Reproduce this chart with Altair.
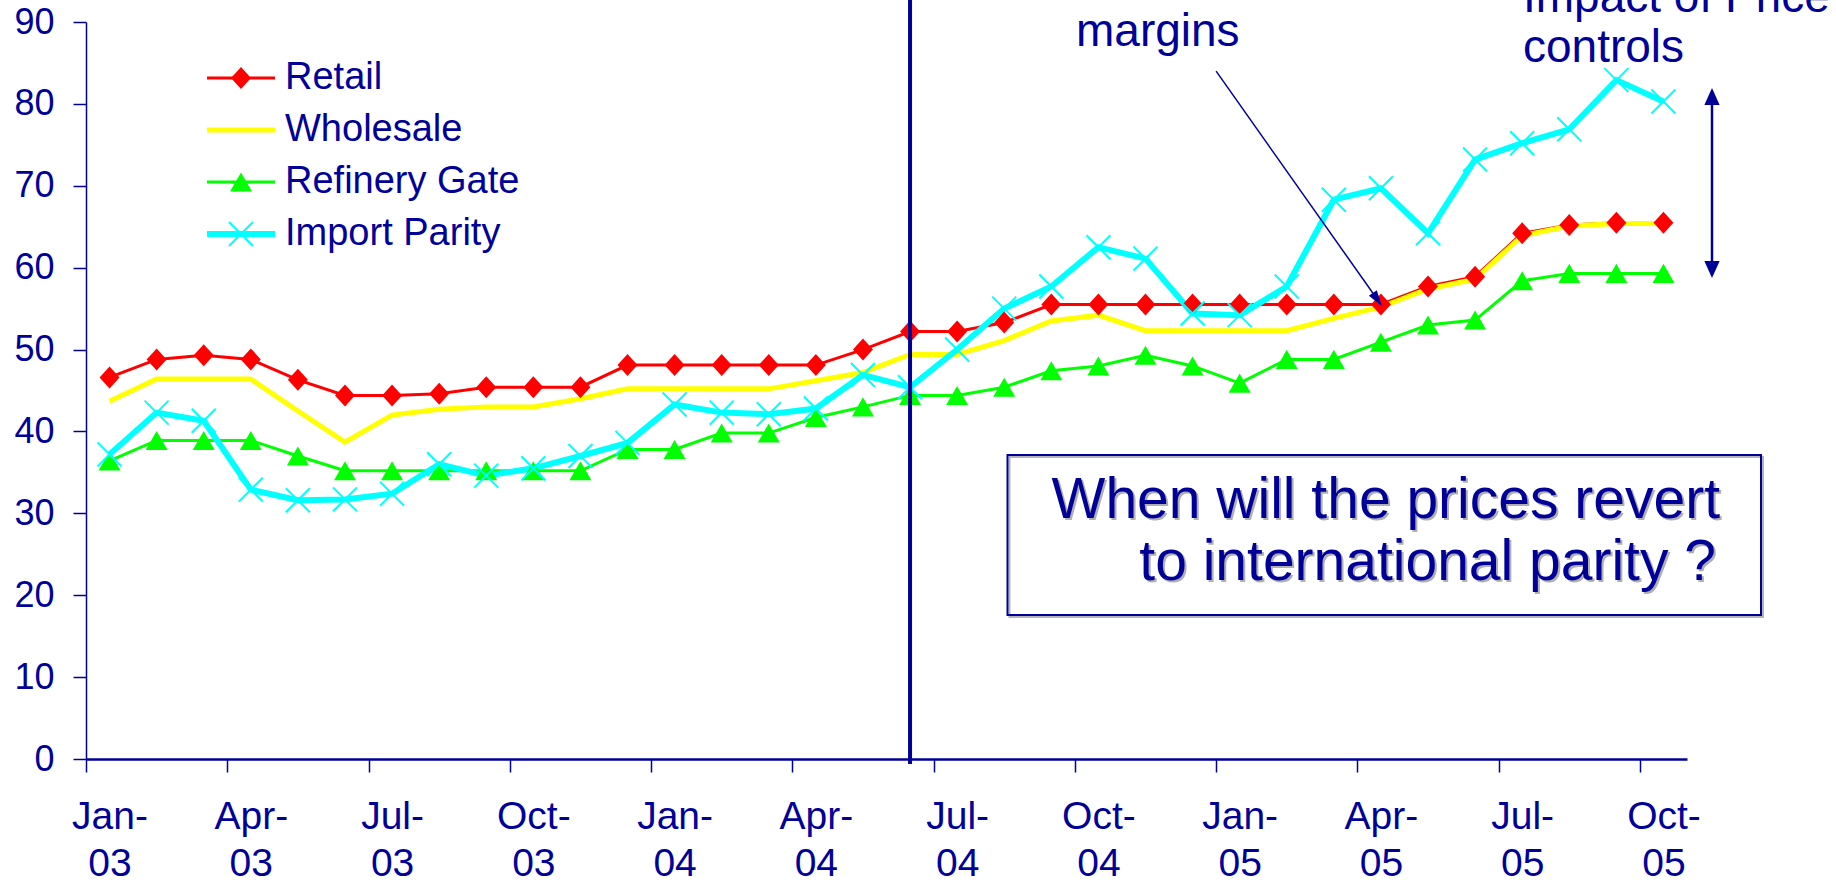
import altair as alt
import pandas as pd

# ---- data -----------------------------------------------------------------
MONTHS = [
    "Jan-03", "Feb-03", "Mar-03", "Apr-03", "May-03", "Jun-03",
    "Jul-03", "Aug-03", "Sep-03", "Oct-03", "Nov-03", "Dec-03",
    "Jan-04", "Feb-04", "Mar-04", "Apr-04", "May-04", "Jun-04",
    "Jul-04", "Aug-04", "Sep-04", "Oct-04", "Nov-04", "Dec-04",
    "Jan-05", "Feb-05", "Mar-05", "Apr-05", "May-05", "Jun-05",
    "Jul-05", "Aug-05", "Sep-05", "Oct-05",
]
RETAIL = [46.6, 48.8, 49.3, 48.8, 46.3, 44.4, 44.4, 44.6, 45.4, 45.4, 45.4, 48.1,
          48.1, 48.1, 48.1, 48.1, 50.0, 52.2, 52.2, 53.3, 55.5, 55.5, 55.5, 55.5,
          55.5, 55.5, 55.5, 55.5, 57.7, 58.9, 64.2, 65.2, 65.5, 65.5]
WHOLESALE = [43.7, 46.4, 46.4, 46.4, 42.5, 38.7, 42.0, 42.7, 43.0, 43.0, 44.0, 45.2,
             45.2, 45.2, 45.2, 46.2, 47.2, 49.4, 49.4, 51.1, 53.5, 54.2, 52.3, 52.3,
             52.3, 52.3, 53.8, 55.2, 57.4, 58.6, 63.9, 65.1, 65.4, 65.4]
REFINERY_GATE = [36.4, 38.9, 38.9, 38.9, 37.0, 35.2, 35.2, 35.2, 35.2, 35.2, 35.2, 37.8,
                 37.8, 39.8, 39.8, 41.7, 43.0, 44.4, 44.4, 45.4, 47.4, 48.0, 49.3, 48.0,
                 45.9, 48.8, 48.8, 50.9, 53.0, 53.6, 58.4, 59.3, 59.3, 59.3]
IMPORT_PARITY = [37.2, 42.3, 41.3, 32.9, 31.6, 31.7, 32.4, 36.0, 34.6, 35.5, 37.0, 38.6,
                 43.3, 42.3, 42.1, 42.8, 46.9, 45.4, 50.0, 55.0, 57.7, 62.5, 61.1, 54.4,
                 54.2, 57.7, 68.3, 69.7, 64.2, 73.2, 75.2, 76.9, 82.9, 80.3]
SERIES = ["Retail", "Wholesale", "Refinery Gate", "Import Parity"]
VALUES = [RETAIL, WHOLESALE, REFINERY_GATE, IMPORT_PARITY]
TICK_LABELS = MONTHS[::3]
Y_TICKS = list(range(0, 91, 10))

POLICY_MONTH = "Jun-04"      # vertical marker
MARGIN_MONTH = "Apr-05"      # point the "margins" arrow touches

# ---- styling ----------------------------------------------------------------
NAVY = "#000099"
FONT = "Liberation Sans"
W, H = 1601, 737
N = len(MONTHS)

DIAMOND = "M0,-1.1L1,0L0,1.1L-1,0Z"
XMARK = "M-1,-1L1,1M-1,1L1,-1"
HEAD = "M0,-1L0.9,1L-0.9,1Z"
SMALL_HEAD = "M0,-1L0.6,1L-0.6,1Z"

STYLE = {
    "Retail": dict(color="#FF0000", width=3, marker=dict(shape=DIAMOND, filled=True, size=400)),
    "Wholesale": dict(color="#FFFF00", width=5, marker=None),
    "Refinery Gate": dict(color="#00FF00", width=3, marker=dict(shape="triangle-up", filled=True, size=484)),
    "Import Parity": dict(color="#00FFFF", width=6, marker=dict(shape=XMARK, filled=False, size=576, strokeWidth=2)),
}

rows = []
for name, vals in zip(SERIES, VALUES):
    for i, (m, v) in enumerate(zip(MONTHS, vals)):
        rows.append({"series": name, "month": m, "pos": i + 0.5, "value": v})
df = pd.DataFrame(rows)

label_expr = "[" + ",".join(
    "['%s-','%s']" % tuple(t.split("-")) for t in TICK_LABELS
) + "][round(datum.value / 3)]"

X_AXIS = alt.Axis(
    values=list(range(0, N, 3)), labelExpr=label_expr, labelOffset=W / N / 2,
    labelAlign="center", labelBaseline="top", labelFontSize=39, labelLineHeight=47,
    labelPadding=25, labelColor=NAVY, labelFont=FONT, labelOverlap=False,
    labelFlush=False, labelBound=False, tickSize=13, tickWidth=1.5, tickColor=NAVY,
    domainColor=NAVY, domainWidth=2.5, grid=False, title=None,
)
Y_AXIS = alt.Axis(
    values=Y_TICKS, tickSize=13, tickWidth=1.5, tickColor=NAVY, domainColor=NAVY,
    domainWidth=1.5, labelFontSize=36, labelPadding=19, labelColor=NAVY,
    labelFont=FONT, grid=False, title=None,
)


def xenc(field):
    return alt.X(f"{field}:Q", scale=alt.Scale(domain=[0, N], nice=False, zero=False), axis=X_AXIS)


def yenc(field):
    return alt.Y(f"{field}:Q", scale=alt.Scale(domain=[0, 90], nice=False), axis=Y_AXIS)


def marker_kw(st):
    mk = st["marker"]
    kw = dict(shape=mk["shape"], filled=mk["filled"], size=mk["size"], opacity=1, color=st["color"])
    if "strokeWidth" in mk:
        kw["strokeWidth"] = mk["strokeWidth"]
    return kw


base = alt.Chart(df).encode(x=xenc("pos"), y=yenc("value"))
one = pd.DataFrame({"k": [0]})

layers = []
# series lines, then markers above them
for name in SERIES:
    st = STYLE[name]
    layers.append(
        base.transform_filter(alt.datum.series == name)
        .mark_line(color=st["color"], strokeWidth=st["width"])
    )
for name in SERIES:
    st = STYLE[name]
    if st["marker"] is None:
        continue
    layers.append(base.transform_filter(alt.datum.series == name).mark_point(**marker_kw(st)))

# vertical policy marker
pol = pd.DataFrame({"pos": [MONTHS.index(POLICY_MONTH) + 0.5], "value": [0.0]})
layers.append(
    alt.Chart(pol).mark_rule(color=NAVY, strokeWidth=4)
    .encode(x=xenc("pos"), y=alt.value(-22), y2=alt.value(742))
)

# "margins" arrow pointing at the retail price
mi = MONTHS.index(MARGIN_MONTH)
arrow = pd.DataFrame({"pos": [24.0], "value": [84.0], "pos2": [mi + 0.5], "value2": [RETAIL[mi]]})
layers.append(
    alt.Chart(arrow).mark_rule(color=NAVY, strokeWidth=1.5)
    .encode(x=xenc("pos"), y=yenc("value"), x2="pos2:Q", y2="value2:Q")
)
tip = pd.DataFrame({"pos": [mi + 0.5], "value": [RETAIL[mi]]})
layers.append(
    alt.Chart(tip).mark_point(shape=SMALL_HEAD, filled=True, size=256, angle=145,
                              color=NAVY, opacity=1)
    .encode(x=xenc("pos"), y=yenc("value"), xOffset=alt.value(-3.5), yOffset=alt.value(-4.9))
)

# legend
for i, name in enumerate(SERIES):
    st = STYLE[name]
    ly = 56 + 52 * i
    layers.append(
        alt.Chart(one).mark_rule(color=st["color"], strokeWidth=st["width"])
        .encode(x=alt.value(121), x2=alt.value(189), y=alt.value(ly))
    )
    if st["marker"] is not None:
        layers.append(alt.Chart(one).mark_point(**marker_kw(st)).encode(x=alt.value(155), y=alt.value(ly)))
    layers.append(
        alt.Chart(one).mark_text(text=name, align="left", baseline="middle", fontSize=38,
                                 font=FONT, color=NAVY)
        .encode(x=alt.value(199), y=alt.value(ly))
    )

# annotation texts
layers.append(
    alt.Chart(one).mark_text(text="margins", align="left", baseline="alphabetic",
                             fontSize=46, font=FONT, color=NAVY)
    .encode(x=alt.value(990), y=alt.value(24))
)
layers.append(
    alt.Chart(one).mark_text(text=["Impact of Price", "controls"], align="left",
                             baseline="alphabetic", lineHeight=50, fontSize=46,
                             font=FONT, color=NAVY)
    .encode(x=alt.value(1437), y=alt.value(-10))
)

# double-headed arrow
layers.append(
    alt.Chart(one).mark_rule(color=NAVY, strokeWidth=2.5)
    .encode(x=alt.value(1626), y=alt.value(74), y2=alt.value(248))
)
layers.append(
    alt.Chart(one).mark_point(shape=HEAD, filled=True, size=289, color=NAVY, opacity=1)
    .encode(x=alt.value(1626), y=alt.value(74.5))
)
layers.append(
    alt.Chart(one).mark_point(shape=HEAD, filled=True, size=289, angle=180, color=NAVY, opacity=1)
    .encode(x=alt.value(1626), y=alt.value(247.5))
)

# question box
layers.append(
    alt.Chart(one).mark_rect(fillOpacity=0, stroke="#b4b4b4", strokeWidth=2)
    .encode(x=alt.value(923.5), x2=alt.value(1677), y=alt.value(435), y2=alt.value(595))
)
layers.append(
    alt.Chart(one).mark_rect(fillOpacity=0, stroke=NAVY, strokeWidth=2)
    .encode(x=alt.value(921.5), x2=alt.value(1675), y=alt.value(433), y2=alt.value(593))
)
for txt, tx, ty in [("When will the prices revert", 1634, 496),
                    ("to international parity ?", 1630, 558)]:
    layers.append(
        alt.Chart(one).mark_text(text=txt, align="right", baseline="alphabetic",
                                 fontSize=57, font=FONT, color="#b0b0b0")
        .encode(x=alt.value(tx + 2), y=alt.value(ty + 2))
    )
    layers.append(
        alt.Chart(one).mark_text(text=txt, align="right", baseline="alphabetic",
                                 fontSize=57, font=FONT, color=NAVY)
        .encode(x=alt.value(tx), y=alt.value(ty))
    )

chart = (
    alt.layer(*layers)
    .properties(
        width=W, height=H,
        autosize=alt.AutoSizeParams(type="none"),
        padding={"left": 86, "top": 22, "right": 1836 - 86 - W, "bottom": 883 - 22 - H},
        background="white",
    )
    .configure_view(strokeWidth=0)
)

chart.save("out.html", embed_options={"renderer": "svg", "actions": False})
